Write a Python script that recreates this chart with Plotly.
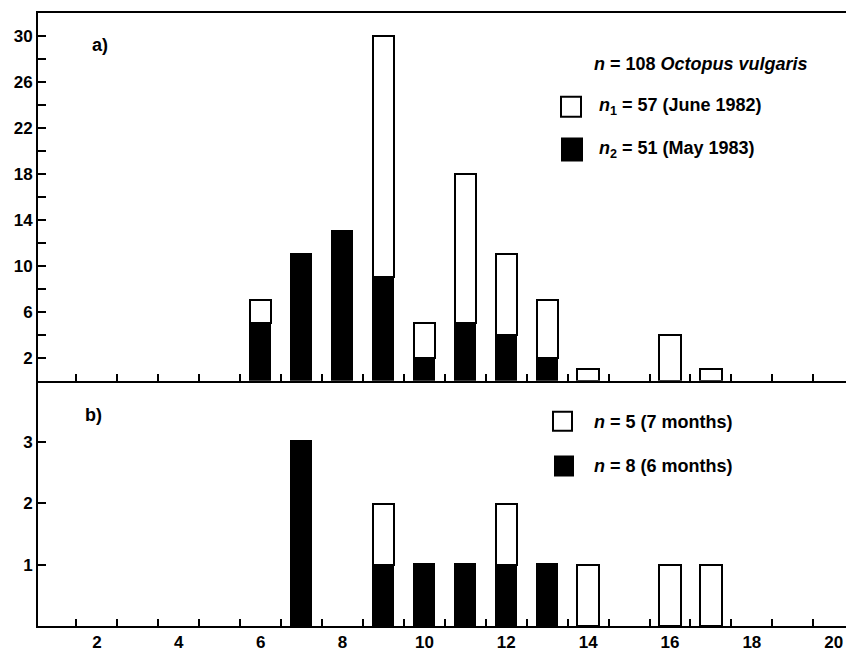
import plotly.graph_objects as go
from plotly.subplots import make_subplots

# ---- data (mantle length classes, counts) ----
a_june_x = [6, 9, 10, 11, 12, 13, 14, 16, 17]
a_june_n = [2, 21, 3, 13, 7, 5, 1, 4, 1]
a_may_x = [6, 7, 8, 9, 10, 11, 12, 13]
a_may_n = [5, 11, 13, 9, 2, 5, 4, 2]

b_7m_x = [9, 12, 14, 16, 17]
b_7m_n = [1, 1, 1, 1, 1]
b_6m_x = [7, 9, 10, 11, 12, 13]
b_6m_n = [3, 1, 1, 1, 1, 1]

x_ticks = [2, 4, 6, 8, 10, 12, 14, 16, 18, 20]
ya_ticks = [2, 6, 10, 14, 18, 22, 26, 30]
yb_ticks = [1, 2, 3]

W, H = 846, 652
ML, MR, MT, MB = 38, 0, 13, 24
FONT = "Liberation Sans, Arial, sans-serif"

fig = make_subplots(rows=2, cols=1, shared_xaxes=True, vertical_spacing=0,
                    row_heights=[0.6, 0.4])

bw = 0.52
fig.add_trace(go.Bar(x=a_may_x, y=a_may_n, width=bw, marker=dict(color="black", line=dict(color="black", width=1.5))), row=1, col=1)
fig.add_trace(go.Bar(x=a_june_x, y=a_june_n, width=bw, marker=dict(color="white", line=dict(color="black", width=2))), row=1, col=1)
fig.add_trace(go.Bar(x=b_6m_x, y=b_6m_n, width=bw, marker=dict(color="black", line=dict(color="black", width=1.5)), xaxis="x2", yaxis="y2"), row=2, col=1)
fig.add_trace(go.Bar(x=b_7m_x, y=b_7m_n, width=bw, marker=dict(color="white", line=dict(color="black", width=2))), row=2, col=1)

tickfont = dict(family=FONT, size=17, color="black", weight="bold")
minor_x = dict(tick0=0.5, dtick=1, ticks="inside", ticklen=7, tickwidth=1.5, tickcolor="black")

common_x = dict(range=[0.56, 20.3], showgrid=False, zeroline=False, showline=True,
                linecolor="black", linewidth=2, ticks="", tickvals=x_ticks,
                tickfont=tickfont, minor=minor_x)
fig.update_xaxes(**common_x)
fig.update_xaxes(showticklabels=False, mirror=True, row=1, col=1)
fig.update_xaxes(showticklabels=True, row=2, col=1)

fig.update_yaxes(range=[0, 32], tickvals=ya_ticks, showgrid=False, zeroline=False,
                 showline=True, linecolor="black", linewidth=2, ticks="inside",
                 ticklen=8, tickwidth=1.5, tickcolor="black", tickfont=tickfont,
                 minor=dict(tick0=0, dtick=4, ticks="inside", ticklen=8, tickwidth=1.5, tickcolor="black"),
                 row=1, col=1)
fig.update_yaxes(range=[0, 4], tickvals=yb_ticks, showgrid=False, zeroline=False,
                 showline=True, linecolor="black", linewidth=2, ticks="inside",
                 ticklen=8, tickwidth=1.5, tickcolor="black", tickfont=tickfont,
                 row=2, col=1)

pw = W - ML - MR
ph = H - MT - MB
def px(x):
    return (x - ML) / pw
def py(y):
    return (H - MB - y) / ph

txt = dict(family=FONT, size=18, color="black", weight="bold")
ann = []
def label(x, y, text, size=18):
    ann.append(dict(x=px(x), y=py(y), xref="paper", yref="paper", text=text,
                    showarrow=False, xanchor="left", yanchor="middle",
                    font=dict(family=FONT, size=size, color="black", weight="bold")))

label(90, 45, "a)")
label(83, 416, "b)")
label(592, 64, "<i>n</i> = 108 <i>Octopus vulgaris</i>", 18)
label(597, 107, "<i>n</i><sub>1</sub> = 57 (June 1982)", 18)
label(597, 150, "<i>n</i><sub>2</sub> = 51 (May 1983)", 18)
label(592, 423, "<i>n</i> = 5 (7 months)", 18)
label(592, 467, "<i>n</i> = 8 (6 months)", 18)

shapes = []
def square(x0, y0, x1, y1, fill):
    shapes.append(dict(type="rect", xref="paper", yref="paper",
                       x0=px(x0), x1=px(x1), y0=py(y1), y1=py(y0),
                       fillcolor=fill, line=dict(color="black", width=2)))
square(561, 97, 581, 117, "white")
square(562, 139, 582, 161, "black")
square(553, 413, 572, 432, "white")
square(555, 458, 573, 477, "black")

fig.update_layout(width=W, height=H, margin=dict(l=ML, r=MR, t=MT, b=MB),
                  barmode="stack", bargap=0, showlegend=False,
                  plot_bgcolor="white", paper_bgcolor="white",
                  annotations=ann, shapes=shapes)

fig.write_html("out.html")
